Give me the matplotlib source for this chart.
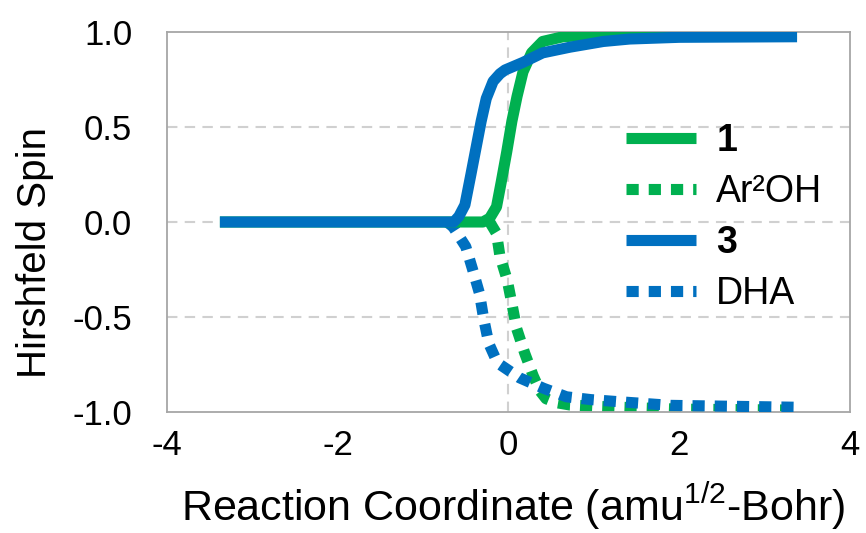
import matplotlib
matplotlib.use('Agg')
import matplotlib.pyplot as plt

plt.rcParams['font.family'] = ['Liberation Sans', 'DejaVu Sans']
plt.rcParams['mathtext.fontset'] = 'custom'
plt.rcParams['mathtext.rm'] = 'Liberation Sans'
plt.rcParams['mathtext.default'] = 'regular'

# curve 1 (solid green)
x1 = [-3.38, -0.30, -0.22, -0.14, -0.085, -0.02, 0.04, 0.10, 0.17, 0.27, 0.40, 0.64, 1.03, 2.0, 3.38]
y1 = [0.0, 0.0, 0.02, 0.08, 0.21, 0.37, 0.53, 0.66, 0.79, 0.89, 0.95, 0.975, 0.985, 0.99, 0.99]

# Ar2OH (dotted green)
x_ar = [-0.22, -0.14, -0.10, -0.015, 0.04, 0.095, 0.19, 0.29, 0.37, 0.44, 0.55, 0.72, 1.01, 1.31, 2.0, 3.38]
y_ar = [0.0, -0.06, -0.18, -0.305, -0.43, -0.56, -0.69, -0.81, -0.89, -0.93, -0.95, -0.963, -0.97, -0.975, -0.985, -0.99]

# curve 3 (solid blue)
x3 = [-3.38, -0.64, -0.58, -0.51, -0.44, -0.38, -0.32, -0.26, -0.18, -0.10, -0.04, 0.17, 0.40, 0.72, 1.11, 1.42, 2.0, 3.38]
y3 = [0.0, 0.0, 0.03, 0.09, 0.25, 0.39, 0.53, 0.65, 0.74, 0.78, 0.80, 0.84, 0.89, 0.92, 0.95, 0.963, 0.972, 0.975]

# DHA (dotted blue)
x_dha = [-0.72, -0.65, -0.50, -0.42, -0.34, -0.29, -0.23, -0.16, -0.10, 0.13, 0.41, 0.68, 0.97, 1.27, 1.9, 3.38]
y_dha = [0.0, -0.025, -0.13, -0.25, -0.375, -0.51, -0.64, -0.71, -0.75, -0.82, -0.875, -0.92, -0.935, -0.945, -0.965, -0.975]

green = '#00B050'
blue = '#0070C0'
lw = 8

fig = plt.figure(figsize=(8.66, 5.33), dpi=100)
ax = fig.add_axes([0.1928, 0.227, 0.7887, 0.713])

# grid
for yv in [-0.5, 0.0, 0.5]:
    ax.axhline(yv, color='#d0d0d0', lw=1.5, ls=(0, (5, 3.5)), zorder=0)
ax.axvline(0, color='#d0d0d0', lw=1.5, ls=(0, (5, 3.5)), zorder=0)

dots = (0, (1.1, 0.9))
l_ar, = ax.plot(x_ar, y_ar, color=green, lw=lw, ls=dots, label='Ar²OH', zorder=2)
l_dha, = ax.plot(x_dha, y_dha, color=blue, lw=lw, ls=dots, label='DHA', zorder=3)
l1, = ax.plot(x1, y1, color=green, lw=lw, solid_capstyle='butt',
              solid_joinstyle='round', label='1', zorder=4)
l3, = ax.plot(x3, y3, color=blue, lw=lw, solid_capstyle='butt',
              solid_joinstyle='round', label='3', zorder=5)

ax.set_xlim(-4, 4)
ax.set_ylim(-1, 1)
ax.set_xticks([-4, -2, 0, 2, 4])
ax.set_yticks([-1.0, -0.5, 0.0, 0.5, 1.0])
ax.set_yticklabels(['-1.0', '-0.5', '0.0', '0.5', '1.0'])
ax.set_xticklabels(['-4', '-2', '0', '2', '4'])
ax.tick_params(axis='both', length=0, labelsize=25)
ax.tick_params(axis='y', pad=25)
ax.tick_params(axis='x', pad=12)

for s in ax.spines.values():
    s.set_color('#a6a6a6')
    s.set_linewidth(1.3)

ax.set_xlabel('Reaction Coordinate (amu$^{1/2}$-Bohr)', fontsize=31)
ax.set_ylabel('Hirshfeld Spin', fontsize=29)
ax.xaxis.set_label_coords(0.507, -0.18)
ax.yaxis.set_label_coords(-0.165, 0.42)

leg = ax.legend(handles=[l1, l_ar, l3, l_dha], loc='upper left',
                bbox_to_anchor=(0.645, 0.81), frameon=False, fontsize=27,
                borderpad=0, handlelength=1.87, handletextpad=0.53,
                labelspacing=0.4)
for t in leg.get_texts():
    if t.get_text() in ('1', '3'):
        t.set_fontweight('bold')

fig.savefig('out.png', dpi=100)
